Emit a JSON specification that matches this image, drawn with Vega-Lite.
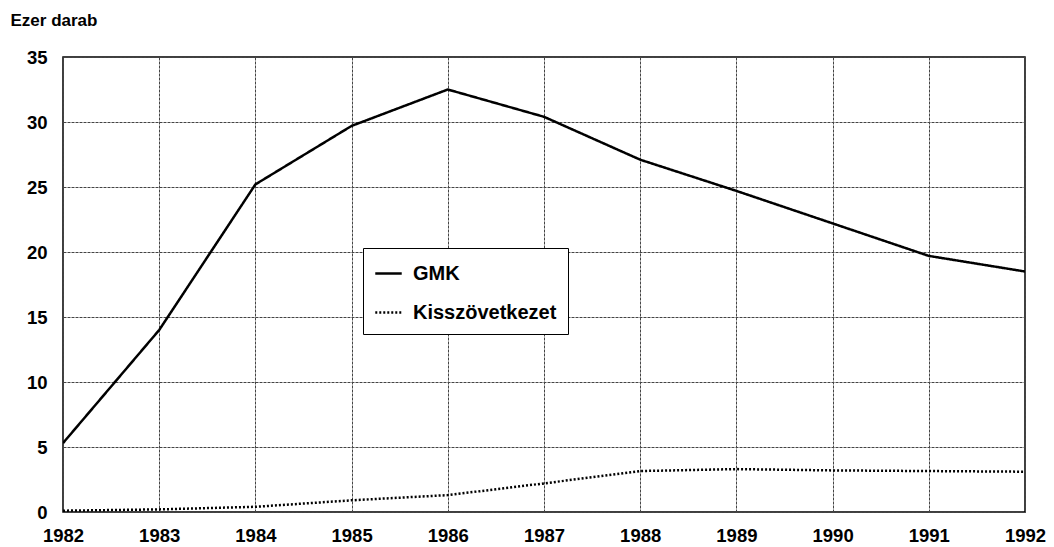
{
  "$schema": "https://vega.github.io/schema/vega-lite/v6.json",
  "width": 962,
  "height": 455,
  "autosize": {"type": "none"},
  "padding": {"left": 63, "top": 57, "right": 29, "bottom": 35},
  "background": "white",
  "config": {
    "font": "Liberation Sans",
    "view": {"stroke": "black", "strokeWidth": 1.5},
    "axis": {"gridColor": "#444", "gridWidth": 1, "gridDash": [3, 1], "gridOpacity": 1, "domain": false, "ticks": false, "labelFont": "Liberation Sans", "labelFontWeight": "bold", "labelFontSize": 18.5, "labelColor": "black"}
  },
  "data": {"values": [
    {"year": 1982, "series": "GMK", "value": 5.3},
    {"year": 1983, "series": "GMK", "value": 14.0},
    {"year": 1984, "series": "GMK", "value": 25.2},
    {"year": 1985, "series": "GMK", "value": 29.7},
    {"year": 1986, "series": "GMK", "value": 32.5},
    {"year": 1987, "series": "GMK", "value": 30.4},
    {"year": 1988, "series": "GMK", "value": 27.1},
    {"year": 1989, "series": "GMK", "value": 24.7},
    {"year": 1990, "series": "GMK", "value": 22.2},
    {"year": 1991, "series": "GMK", "value": 19.7},
    {"year": 1992, "series": "GMK", "value": 18.5},
    {"year": 1982, "series": "Kisszövetkezet", "value": 0.1},
    {"year": 1983, "series": "Kisszövetkezet", "value": 0.2},
    {"year": 1984, "series": "Kisszövetkezet", "value": 0.4},
    {"year": 1985, "series": "Kisszövetkezet", "value": 0.9},
    {"year": 1986, "series": "Kisszövetkezet", "value": 1.3},
    {"year": 1987, "series": "Kisszövetkezet", "value": 2.2},
    {"year": 1988, "series": "Kisszövetkezet", "value": 3.15},
    {"year": 1989, "series": "Kisszövetkezet", "value": 3.3},
    {"year": 1990, "series": "Kisszövetkezet", "value": 3.2},
    {"year": 1991, "series": "Kisszövetkezet", "value": 3.15},
    {"year": 1992, "series": "Kisszövetkezet", "value": 3.1}
  ]},
  "mark": {"type": "line", "color": "black", "strokeWidth": 2.5, "clip": true},
  "encoding": {
    "x": {"field": "year", "type": "quantitative", "scale": {"domain": [1982, 1992], "nice": false, "zero": false},
      "axis": {"title": null, "values": [1982,1983,1984,1985,1986,1987,1988,1989,1990,1991,1992], "format": "d", "labelPadding": 14, "labelFlush": false}},
    "y": {"field": "value", "type": "quantitative", "scale": {"domain": [0, 35], "nice": false},
      "axis": {"title": "Ezer darab", "titleAngle": 0, "titleAlign": "left", "titleBaseline": "middle", "titleX": -53, "titleY": -37, "titleFontSize": 17, "titleFontWeight": "bold", "titleFont": "Liberation Sans", "values": [0,5,10,15,20,25,30,35], "labelPadding": 16}},
    "strokeDash": {"field": "series", "type": "nominal",
      "scale": {"domain": ["GMK", "Kisszövetkezet"], "range": [[1, 0], [2, 2]]},
      "legend": {"title": null, "orient": "none", "legendX": 300, "legendY": 191, "symbolType": "stroke", "symbolStrokeColor": "black", "symbolStrokeWidth": 2.5, "symbolSize": 700, "labelFontSize": 20, "labelFontWeight": "bold", "labelColor": "black", "strokeColor": "black", "fillColor": "white", "padding": 11, "rowPadding": 14, "labelOffset": 10}}
  }
}
